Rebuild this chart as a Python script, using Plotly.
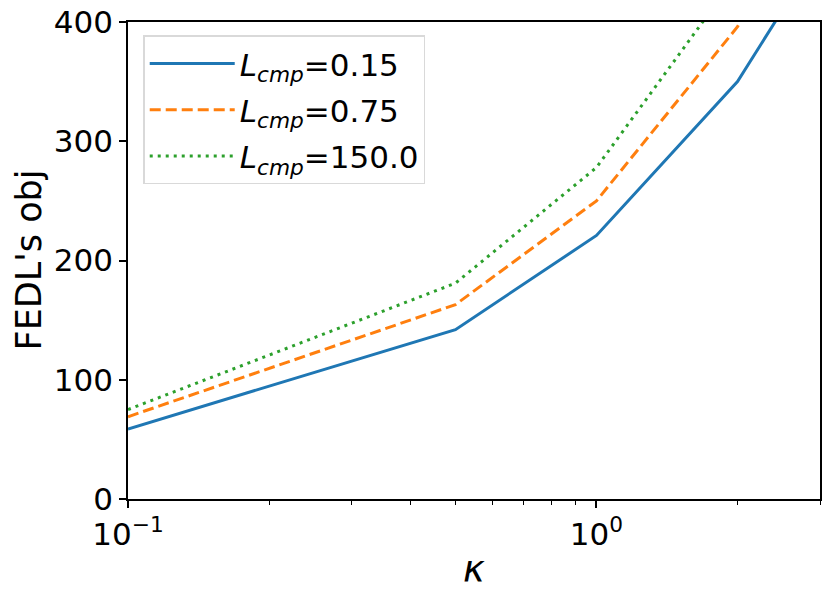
import plotly.graph_objects as go

# kappa values on the x axis and FEDL objective for each L_cmp
kappa = [0.1, 0.5, 1.0, 2.0, 3.0]
obj_015 = [58.7, 142, 221, 350, 460]
obj_075 = [69, 163, 250, 396, 530]
obj_150 = [75, 181, 278, 440, 590]

names = ["<i>L</i><sub><i>cmp</i></sub>=0.15",
         "<i>L</i><sub><i>cmp</i></sub>=0.75",
         "<i>L</i><sub><i>cmp</i></sub>=150.0"]

major_ticks = [0.1, 1]
major_text = ["10<sup>\u22121</sup>", "10<sup>0</sup>"]
minor_ticks = [0.2, 0.3, 0.4, 0.5, 0.6, 0.7, 0.8, 0.9, 2, 3]

FONT = "DejaVu Sans"

fig = go.Figure()
styles = [("#1f77b4", "solid"), ("#ff7f0e", "11px,5px"), ("#2ca02c", "3px,5px")]
for i, (ys, name, (col, dash)) in enumerate(zip([obj_015, obj_075, obj_150], names, styles)):
    fig.add_trace(go.Scatter(x=kappa, y=ys, mode="lines", name=name, legendgroup=str(i),
                             line=dict(color=col, width=3, dash=dash)))

# the page body adds an 8px offset, so the figure is made 8px smaller on each side
fig.update_layout(
    width=822, height=596,
    margin=dict(l=120, r=10, t=14, b=105),
    paper_bgcolor="white", plot_bgcolor="white",
    font=dict(family=FONT, size=31, color="black"),
    showlegend=True,
    legend=dict(x=0.022, y=0.972, xanchor="left", yanchor="top",
                bordercolor="#d9d9d9", borderwidth=1.5, bgcolor="white",
                font=dict(size=31), itemwidth=85, tracegroupgap=3,
                traceorder="grouped"),
)
fig.update_xaxes(type="log", range=[-1, 0.4771], automargin=False,
                 tickvals=major_ticks, ticktext=major_text,
                 ticks="outside", ticklen=7, tickwidth=1.5, tickcolor="black",
                 minor=dict(tickvals=minor_ticks, ticks="outside", ticklen=4,
                            tickwidth=1.2, tickcolor="black"),
                 showline=True, linecolor="black", linewidth=1.6, mirror=True,
                 showgrid=False, zeroline=False, ticklabeloverflow="allow")
fig.update_yaxes(range=[0, 400], tickvals=[0, 100, 200, 300, 400], automargin=False,
                 ticks="outside", ticklen=7, tickwidth=1.5, tickcolor="black",
                 showline=True, linecolor="black", linewidth=1.6, mirror=True,
                 showgrid=False, zeroline=False, ticklabeloverflow="allow")

fig.add_annotation(text="FEDL's obj", textangle=-90, xref="paper", yref="paper",
                   x=-0.1445, y=0.5, xanchor="center", yanchor="middle",
                   showarrow=False, font=dict(size=35, family=FONT))
fig.add_annotation(text="<i>\u03ba</i>", xref="paper", yref="paper",
                   x=0.5, y=-0.147, xanchor="center", yanchor="middle",
                   showarrow=False, font=dict(size=37, family=FONT))

fig.write_html("out.html")
